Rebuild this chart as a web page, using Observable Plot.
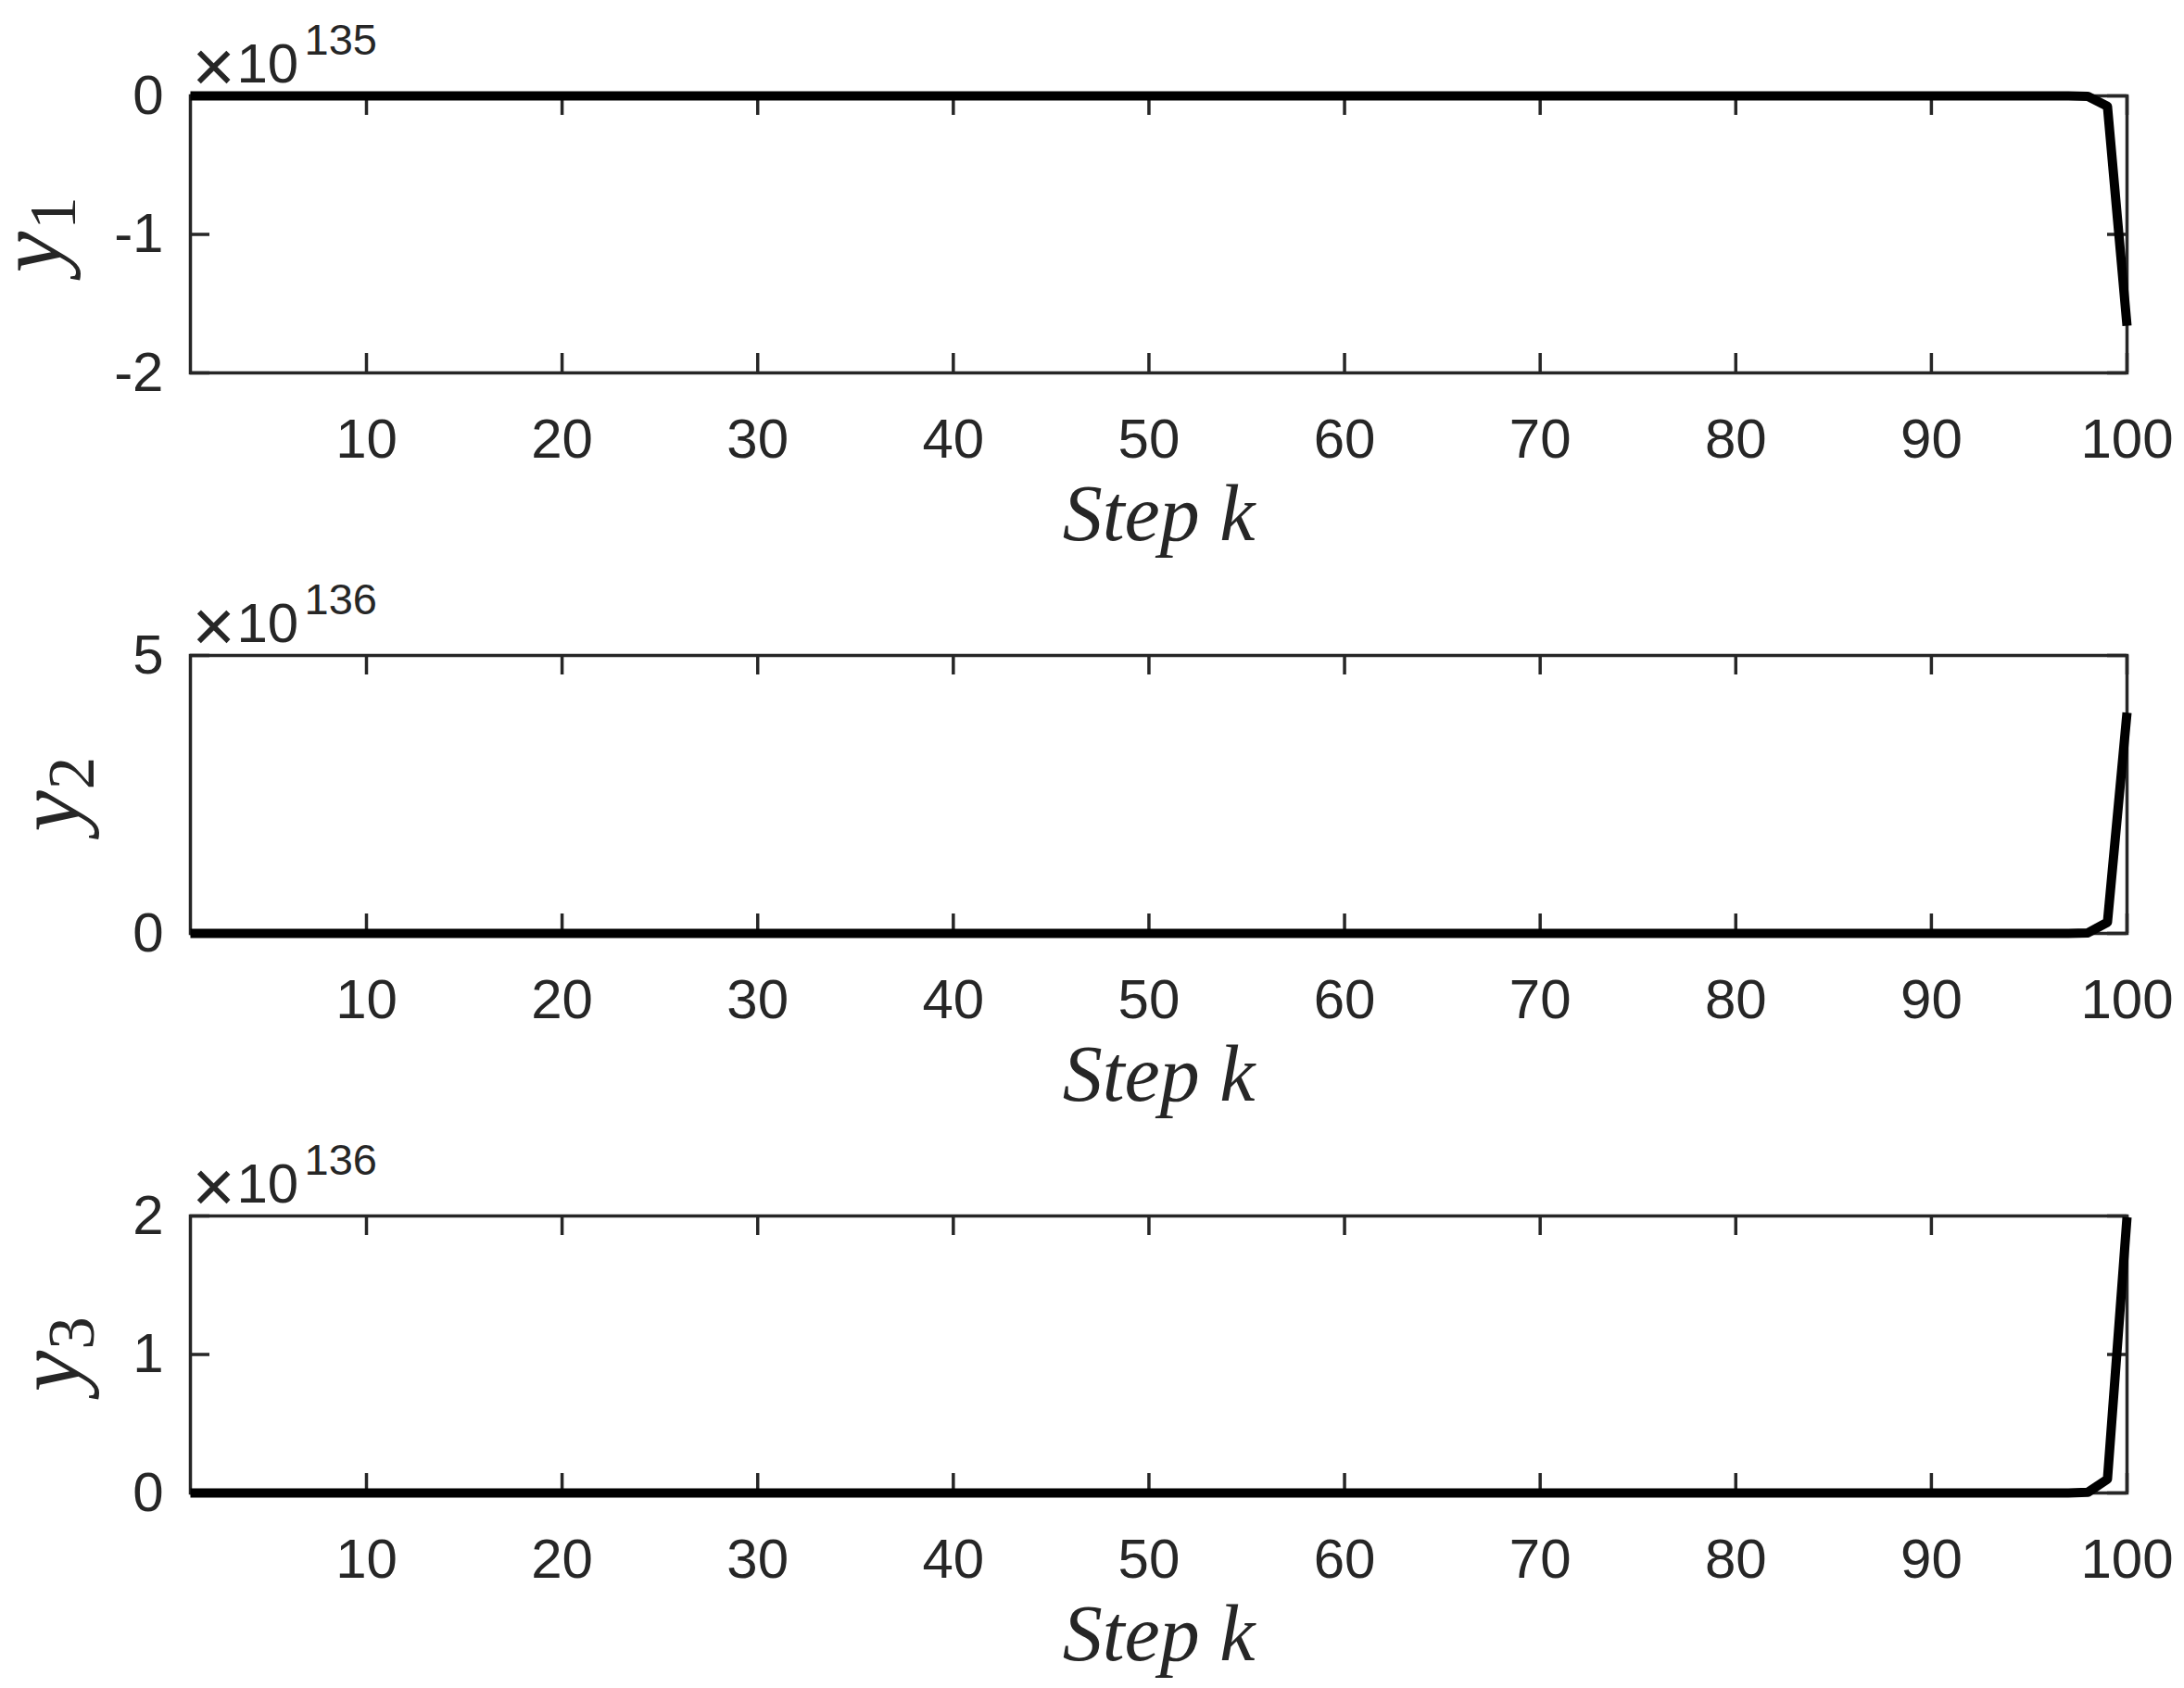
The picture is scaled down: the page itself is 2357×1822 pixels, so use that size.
<!DOCTYPE html>
<html>
<head>
<meta charset="utf-8">
<script src="https://cdn.jsdelivr.net/npm/d3@7"></script>
<script src="https://cdn.jsdelivr.net/npm/@observablehq/plot@0.6"></script>
<style>
  html, body { margin: 0; padding: 0; background: #fff; overflow: hidden; }
  #wrap { position: relative; width: 2357px; height: 1822px; overflow: hidden; background: #fff; }
  .panel { position: absolute; left: 0; }
</style>
</head>
<body>
<div id="wrap"></div>
<script>
// ---- data ----
const steps = [
  1, 2, 3, 4, 5, 6, 7, 8, 9, 10,
  11, 12, 13, 14, 15, 16, 17, 18, 19, 20,
  21, 22, 23, 24, 25, 26, 27, 28, 29, 30,
  31, 32, 33, 34, 35, 36, 37, 38, 39, 40,
  41, 42, 43, 44, 45, 46, 47, 48, 49, 50,
  51, 52, 53, 54, 55, 56, 57, 58, 59, 60,
  61, 62, 63, 64, 65, 66, 67, 68, 69, 70,
  71, 72, 73, 74, 75, 76, 77, 78, 79, 80,
  81, 82, 83, 84, 85, 86, 87, 88, 89, 90,
  91, 92, 93, 94, 95, 96, 97, 98, 99, 100
];
const y1Values = [
  0, 0, 0, 0, 0, 0, 0, 0, 0, 0,
  0, 0, 0, 0, 0, 0, 0, 0, 0, 0,
  0, 0, 0, 0, 0, 0, 0, 0, 0, 0,
  0, 0, 0, 0, 0, 0, 0, 0, 0, 0,
  0, 0, 0, 0, 0, 0, 0, 0, 0, 0,
  0, 0, 0, 0, 0, 0, 0, 0, 0, 0,
  0, 0, 0, 0, 0, 0, 0, 0, 0, 0,
  0, 0, 0, 0, 0, 0, 0, 0, 0, 0,
  0, 0, 0, 0, 0, 0, 0, 0, 0, 0,
  0, 0, 0, 0, 0, -1e130, -2e131, -3.8e132, -7.5e133, -1.66e135
];
const y2Values = [
  0, 0, 0, 0, 0, 0, 0, 0, 0, 0,
  0, 0, 0, 0, 0, 0, 0, 0, 0, 0,
  0, 0, 0, 0, 0, 0, 0, 0, 0, 0,
  0, 0, 0, 0, 0, 0, 0, 0, 0, 0,
  0, 0, 0, 0, 0, 0, 0, 0, 0, 0,
  0, 0, 0, 0, 0, 0, 0, 0, 0, 0,
  0, 0, 0, 0, 0, 0, 0, 0, 0, 0,
  0, 0, 0, 0, 0, 0, 0, 0, 0, 0,
  0, 0, 0, 0, 0, 0, 0, 0, 0, 0,
  0, 0, 0, 0, 0, 2.5e131, 5e132, 1.0e134, 2.0e135, 3.97e136
];
const y3Values = [
  0, 0, 0, 0, 0, 0, 0, 0, 0, 0,
  0, 0, 0, 0, 0, 0, 0, 0, 0, 0,
  0, 0, 0, 0, 0, 0, 0, 0, 0, 0,
  0, 0, 0, 0, 0, 0, 0, 0, 0, 0,
  0, 0, 0, 0, 0, 0, 0, 0, 0, 0,
  0, 0, 0, 0, 0, 0, 0, 0, 0, 0,
  0, 0, 0, 0, 0, 0, 0, 0, 0, 0,
  0, 0, 0, 0, 0, 0, 0, 0, 0, 0,
  0, 0, 0, 0, 0, 0, 0, 0, 0, 0,
  0, 0, 0, 0, 0, 1.2e131, 2.5e132, 5e133, 1.0e135, 1.99e136
];
const xTicks = [10, 20, 30, 40, 50, 60, 70, 80, 90, 100];
const y1Ticks = [-2, -1, 0];
const y2Ticks = [0, 5];
const y3Ticks = [0, 1, 2];
const exponents = [135, 136, 136];
const subscripts = ["1", "2", "3"];
const xLabel = "Step k";

// ---- layout ----
const W = 2357;
const INK = "#262626";
const panels = [
  {values: y1Values, ticks: y1Ticks, domain: [-2, 0], exp: exponents[0], sub: subscripts[0],
   top: 0, H: 604, ph: 299, yDx: -140, subDx: -125, yOff: 19, subOff: -23},
  {values: y2Values, ticks: y2Ticks, domain: [0, 5], exp: exponents[1], sub: subscripts[1],
   top: 604, H: 605, ph: 300, yDx: -120, subDx: -105, yOff: 18, subOff: -23},
  {values: y3Values, ticks: y3Ticks, domain: [0, 2], exp: exponents[2], sub: subscripts[2],
   top: 1209, H: 613, ph: 299, yDx: -120, subDx: -105, yOff: 18, subOff: -23}
];

const wrap = document.getElementById("wrap");

for (const p of panels) {
  const scale = Math.pow(10, p.exp);
  const [y0, yTop] = p.domain;
  const xDom = [1, 100];
  const chart = Plot.plot({
    width: W,
    height: p.H,
    marginTop: 103,
    marginBottom: p.H - 103 - p.ph,
    marginLeft: 205,
    marginRight: 62,
    style: {fontFamily: "Liberation Sans, Arial, sans-serif", fontSize: "60px", background: "#fff", overflow: "visible"},
    x: {domain: xDom, axis: null},
    y: {domain: p.domain, axis: null},
    marks: [
      Plot.frame({stroke: INK, strokeWidth: 3.5}),
      // inward ticks: bottom & top
      Plot.ruleX(xTicks, {x: d => d, y1: () => y0, y2: () => y0, insetTop: 0, insetBottom: 21, stroke: INK, strokeWidth: 3.5}),
      Plot.ruleX(xTicks, {x: d => d, y1: () => yTop, y2: () => yTop, insetTop: 21, insetBottom: 0, stroke: INK, strokeWidth: 3.5}),
      // inward ticks: left & right
      Plot.ruleY(p.ticks, {y: d => d, x1: () => xDom[0], x2: () => xDom[0], insetLeft: 21, insetRight: 0, stroke: INK, strokeWidth: 3.5}),
      Plot.ruleY(p.ticks, {y: d => d, x1: () => xDom[1], x2: () => xDom[1], insetLeft: 0, insetRight: 21, stroke: INK, strokeWidth: 3.5}),
      Plot.axisX(xTicks, {anchor: "bottom", tickSize: 0, tickPadding: 49, label: null, fontSize: 60, color: INK, tickFormat: d => String(d)}),
      Plot.axisY(p.ticks, {anchor: "left", tickSize: 0, tickPadding: 29, label: null, fontSize: 60, color: INK, tickFormat: d => String(d)}),
      Plot.line(p.values, {x: (d, i) => steps[i], y: d => d / scale, stroke: "#000", strokeWidth: 10, strokeLinecap: "butt", strokeLinejoin: "round"}),
      // exponent label: ×10^exp
      Plot.text(["\u00d7"], {frameAnchor: "top-left", textAnchor: "middle", lineAnchor: "bottom", dx: 25, dy: -5, fontSize: 80, fill: INK}),
      Plot.text(["10"], {frameAnchor: "top-left", textAnchor: "start", lineAnchor: "bottom", dx: 50, dy: -15, fontSize: 60, fill: INK}),
      Plot.text([String(p.exp)], {frameAnchor: "top-left", textAnchor: "start", lineAnchor: "bottom", dx: 123, dy: -45, fontSize: 47, fill: INK}),
      // x label
      Plot.text([xLabel], {frameAnchor: "bottom", textAnchor: "middle", lineAnchor: "bottom", dy: 180, fontSize: 86, fontFamily: "Liberation Serif, serif", fontStyle: "italic", fill: INK}),
      // y label: italic y with roman subscript
      Plot.text(["y"], {frameAnchor: "left", textAnchor: "middle", lineAnchor: "bottom", rotate: -90, dx: p.yDx, dy: p.yOff, fontSize: 100, fontFamily: "Liberation Serif, serif", fontStyle: "italic", fill: INK}),
      Plot.text([p.sub], {frameAnchor: "left", textAnchor: "middle", lineAnchor: "bottom", rotate: -90, dx: p.subDx, dy: p.subOff, fontSize: 71, fontFamily: "Liberation Serif, serif", fill: INK})
    ]
  });
  const div = document.createElement("div");
  div.className = "panel";
  div.style.top = p.top + "px";
  div.appendChild(chart);
  wrap.appendChild(div);
}
</script>
</body>
</html>
